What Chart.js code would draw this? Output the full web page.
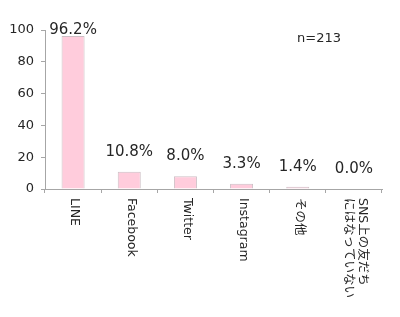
<!DOCTYPE html>
<html>
<head>
<meta charset="utf-8">
<script src="https://cdn.jsdelivr.net/npm/chart.js@4/dist/chart.umd.min.js"></script>
<style>
html,body{margin:0;padding:0;background:#fff;}
#wrap{width:400px;height:317px;position:relative;}
</style>
</head>
<body>
<div id="wrap"><canvas id="c" width="400" height="317"></canvas></div>
<script>
const categories = ["LINE", "Facebook", "Twitter", "Instagram", "その他", ["SNS上の友だち", "にはなっていない"]];
const values = [96.2, 10.8, 8.0, 3.3, 1.4, 0.0];
const valueLabels = ["96.2%", "10.8%", "8.0%", "3.3%", "1.4%", "0.0%"];
const yTicks = [0, 20, 40, 60, 80, 100];
const noteText = "n=213";

const FONT = '"DejaVu Sans", "Noto Sans CJK JP", sans-serif';
const TEXT = '#262626';
const AXIS = '#A6A6A6';

const labelPlugin = {
  id: 'customLabels',
  afterDraw(chart) {
    const ctx = chart.ctx;
    const xs = chart.scales.x;
    const area = chart.chartArea;
    ctx.save();
    // value labels
    const meta = chart.getDatasetMeta(0);
    ctx.font = '15px ' + FONT;
    ctx.fillStyle = TEXT;
    ctx.textAlign = 'center';
    ctx.textBaseline = 'middle';
    meta.data.forEach((bar, i) => {
      const y = Math.max(bar.y - 20, area.top);
      ctx.fillText(valueLabels[i], bar.x, y);
    });
    // category labels rotated clockwise
    ctx.font = '12.5px ' + FONT;
    ctx.textAlign = 'left';
    categories.forEach((lab, i) => {
      const x = xs.getPixelForValue(i) + 1.5;
      const lines = Array.isArray(lab) ? lab : [lab];
      const lh = 14;
      ctx.save();
      ctx.translate(x, area.bottom + 9);
      ctx.rotate(Math.PI / 2);
      lines.forEach((ln, k) => {
        const off = (k - (lines.length - 1) / 2) * lh;
        ctx.fillText(ln, 0, off);
      });
      ctx.restore();
    });
    // note
    ctx.font = '13px ' + FONT;
    ctx.textAlign = 'left';
    ctx.fillText(noteText, 297, 39);
    ctx.restore();
  }
};

new Chart(document.getElementById('c'), {
  type: 'bar',
  data: {
    labels: categories,
    datasets: [{
      data: values,
      backgroundColor: '#FFCCDC',
      borderColor: '#CDBFC5',
      borderWidth: 1,
      barPercentage: 0.41,
      categoryPercentage: 1
    }]
  },
  options: {
    responsive: false,
    animation: false,
    devicePixelRatio: 1,
    layout: { padding: { top: 30, right: 18, left: 0, bottom: 0 } },
    plugins: { legend: { display: false }, tooltip: { enabled: false } },
    scales: {
      x: {
        grid: { offset: true, drawOnChartArea: false, drawTicks: true, tickLength: 4, color: AXIS },
        border: { color: AXIS },
        ticks: { display: false },
        afterFit(s) { s.height = 128; }
      },
      y: {
        min: 0, max: 100,
        afterBuildTicks(s) { s.ticks = yTicks.map(v => ({ value: v })); },
        grid: { drawOnChartArea: false, drawTicks: true, tickLength: 4, color: AXIS },
        border: { color: AXIS },
        ticks: { font: { family: FONT, size: 13 }, color: TEXT, padding: 7 },
        afterFit(s) { s.width = 45; }
      }
    }
  },
  plugins: [labelPlugin]
});
</script>
</body>
</html>
